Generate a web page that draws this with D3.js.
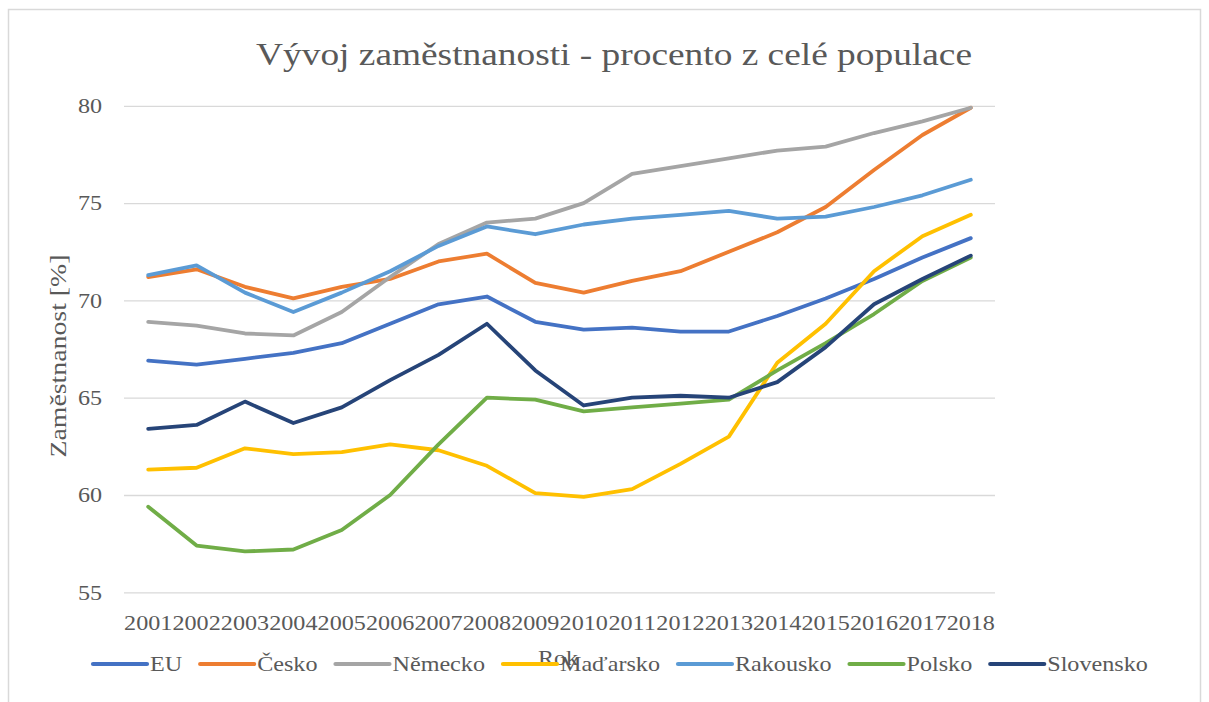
<!DOCTYPE html>
<html lang="cs">
<head>
	<meta charset="UTF-8"/>
	<title>Vývoj zaměstnanosti</title>
	<style>
	body { margin: 0; background: #fff; }
	text { font-family: "Liberation Serif", "Times New Roman", serif; fill: #595959; }
	</style>
	<script src="https://d3js.org/d3.v7.min.js"></script>
</head>
<body>
<div id="chart"></div>
<script>

// data
var years = ["2001","2002","2003","2004","2005","2006","2007","2008","2009",
             "2010","2011","2012","2013","2014","2015","2016","2017","2018"];
var names = ["EU", "Česko", "Německo", "Maďarsko", "Rakousko", "Polsko", "Slovensko"];
var colors = ["#4472C4", "#ED7D31", "#A5A5A5", "#FFC000", "#5B9BD5", "#70AD47", "#264478"];

var eu        = [66.9, 66.7, 67.0, 67.3, 67.8, 68.8, 69.8, 70.2, 68.9, 68.5, 68.6, 68.4, 68.4, 69.2, 70.1, 71.1, 72.2, 73.2];
var cesko     = [71.2, 71.6, 70.7, 70.1, 70.7, 71.1, 72.0, 72.4, 70.9, 70.4, 71.0, 71.5, 72.5, 73.5, 74.8, 76.7, 78.5, 79.9];
var nemecko   = [68.9, 68.7, 68.3, 68.2, 69.4, 71.2, 72.9, 74.0, 74.2, 75.0, 76.5, 76.9, 77.3, 77.7, 77.9, 78.6, 79.2, 79.9];
var madarsko  = [61.3, 61.4, 62.4, 62.1, 62.2, 62.6, 62.3, 61.5, 60.1, 59.9, 60.3, 61.6, 63.0, 66.8, 68.8, 71.5, 73.3, 74.4];
var rakousko  = [71.3, 71.8, 70.4, 69.4, 70.4, 71.5, 72.8, 73.8, 73.4, 73.9, 74.2, 74.4, 74.6, 74.2, 74.3, 74.8, 75.4, 76.2];
var polsko    = [59.4, 57.4, 57.1, 57.2, 58.2, 60.0, 62.6, 65.0, 64.9, 64.3, 64.5, 64.7, 64.9, 66.4, 67.8, 69.3, 71.0, 72.2];
var slovensko = [63.4, 63.6, 64.8, 63.7, 64.5, 65.9, 67.2, 68.8, 66.4, 64.6, 65.0, 65.1, 65.0, 65.8, 67.6, 69.8, 71.1, 72.3];

var yTicks = [55, 60, 65, 70, 75, 80];
var series = [eu, cesko, nemecko, madarsko, rakousko, polsko, slovensko];

var w = 1209;
var h = 702;
var sx = 1.15; // text in the picture is a bit wider than normal

var plotLeft = 124, plotRight = 995, plotTop = 105.8, plotBottom = 592.3;

var svg = d3.select("#chart")
	.append("svg")
	.attr("width", w)
	.attr("height", h);

// chart frame
svg.append("rect")
	.attr("x", 8.5).attr("y", 9.5)
	.attr("width", 1192).attr("height", 710)
	.attr("fill", "none")
	.attr("stroke", "#D9D9D9")
	.attr("stroke-width", 1.5);

var xScale = d3.scaleBand()
	.domain(years)
	.range([plotLeft, plotRight]);

var yScale = d3.scaleLinear()
	.domain([55, 80])
	.range([plotBottom, plotTop]);

// y axis + gridlines
var yAxis = svg.append("g")
	.attr("transform", "translate(" + plotLeft + ",0)")
	.call(d3.axisLeft(yScale).tickValues(yTicks).tickSize(-(plotRight - plotLeft)).tickPadding(22));
yAxis.select(".domain").remove();
yAxis.selectAll("line").attr("stroke", "#D9D9D9").attr("stroke-width", 1.3);
yAxis.selectAll("text")
	.attr("x", -22 / sx)
	.attr("transform", "scale(" + sx + ",1)")
	.style("font-size", "21px")
	.style("font-family", "Liberation Serif, serif")
	.style("fill", "#595959");

// x axis
var xAxis = svg.append("g")
	.attr("transform", "translate(0," + plotBottom + ")")
	.call(d3.axisBottom(xScale).tickSize(0).tickPadding(23));
xAxis.select(".domain").remove();
xAxis.selectAll("text")
	.attr("transform", "scale(" + sx + ",1)")
	.style("font-size", "21px")
	.style("font-family", "Liberation Serif, serif")
	.style("fill", "#595959");

// lines
var line = d3.line()
	.x(function(d, i) { return xScale(years[i]) + xScale.bandwidth() / 2; })
	.y(function(d) { return yScale(d); });

svg.selectAll(".series")
	.data(series)
	.enter()
	.append("path")
	.attr("class", "series")
	.attr("d", line)
	.attr("fill", "none")
	.attr("stroke", function(d, i) { return colors[i]; })
	.attr("stroke-width", 3.8)
	.attr("stroke-linejoin", "round")
	.attr("stroke-linecap", "round");

// title
svg.append("text")
	.attr("transform", "translate(614,65) scale(" + sx + ",1)")
	.attr("text-anchor", "middle")
	.style("font-size", "32.5px")
	.text("Vývoj zaměstnanosti - procento z celé populace");

// axis titles
svg.append("text")
	.attr("transform", "translate(66,356) rotate(-90)")
	.attr("text-anchor", "middle")
	.attr("textLength", 203)
	.attr("lengthAdjust", "spacingAndGlyphs")
	.style("font-size", "24px")
	.text("Zaměstnanost [%]");

svg.append("text")
	.attr("transform", "translate(558,665) scale(" + sx + ",1)")
	.attr("text-anchor", "middle")
	.style("font-size", "21px")
	.text("Rok");

// legend
var legend = svg.append("g");
var cx = 93;
var ly = 664;
names.forEach(function(n, i) {
	legend.append("line")
		.attr("x1", cx).attr("x2", cx + 54)
		.attr("y1", ly).attr("y2", ly)
		.attr("stroke", colors[i])
		.attr("stroke-width", 4.2)
		.attr("stroke-linecap", "round");
	var t = legend.append("text")
		.attr("transform", "translate(" + (cx + 57) + "," + (ly + 7) + ") scale(" + sx + ",1)")
		.style("font-size", "21px")
		.text(n);
	var tw = t.node().getComputedTextLength() * sx;
	cx = cx + 57 + tw + 18;
});

</script>
</body>
</html>
